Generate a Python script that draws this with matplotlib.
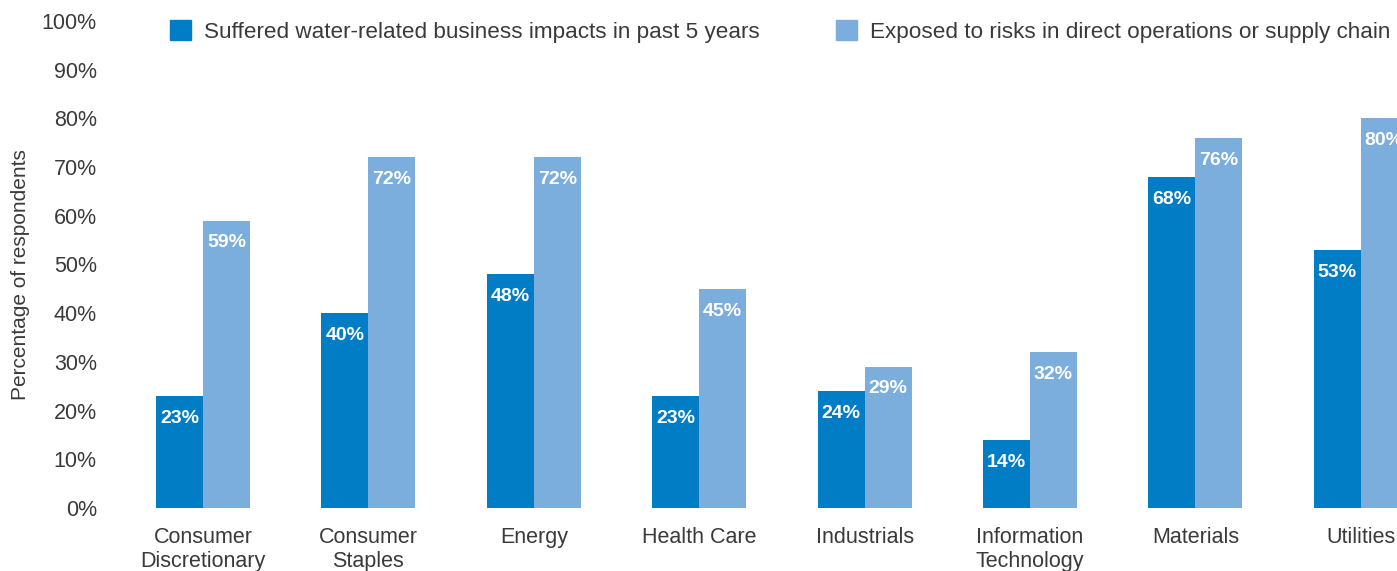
import matplotlib.pyplot as plt
import numpy as np
from matplotlib.patches import Patch

plt.rcParams['font.family'] = ['Liberation Sans', 'DejaVu Sans']

sectors = ["Consumer\nDiscretionary", "Consumer\nStaples", "Energy", "Health Care",
           "Industrials", "Information\nTechnology", "Materials", "Utilities"]
suffered_impacts = [23, 40, 48, 23, 24, 14, 68, 53]
exposed_to_risks = [59, 72, 72, 45, 29, 32, 76, 80]
series_names = ["Suffered water-related business impacts in past 5 years",
                "Exposed to risks in direct operations or supply chain"]

dark_blue = "#007DC5"
light_blue = "#7BADDD"
text_grey = "#3a3a3a"

fig = plt.figure(figsize=(13.97, 5.71), dpi=100)
# axes deliberately runs past the right edge of the figure
ax = fig.add_axes([0.0743, 0.1103, 0.959, 0.853])

x = np.arange(len(sectors))
width = 0.284
bars_a = ax.bar(x - width / 2, suffered_impacts, width, color=dark_blue, label=series_names[0])
bars_b = ax.bar(x + width / 2, exposed_to_risks, width, color=light_blue, label=series_names[1])

for bars, values in [(bars_a, suffered_impacts), (bars_b, exposed_to_risks)]:
    for bar, v in zip(bars, values):
        ax.annotate(f"{v}%", (bar.get_x() + bar.get_width() / 2, v),
                    xytext=(0, -16), textcoords="offset points",
                    ha="center", va="center", color="white",
                    fontsize=14, fontweight="bold")

ax.set_xlim(-0.6, 7.5)
ax.set_ylim(0, 100)
ax.set_yticks(np.arange(0, 101, 10))
ax.set_yticklabels([f"{t}%" for t in range(0, 101, 10)])
ax.set_xticks(x)
ax.set_xticklabels(sectors, linespacing=1.18)
ax.tick_params(axis="both", length=0, labelsize=15.5, colors=text_grey)
ax.tick_params(axis="y", pad=5)
ax.tick_params(axis="x", pad=14)
for s in ax.spines.values():
    s.set_visible(False)

fig.text(0.0150, 0.520, "Percentage of respondents", rotation=90,
         ha="center", va="center", fontsize=15, color=text_grey)

handles = [Patch(color=dark_blue), Patch(color=light_blue)]
fig.legend(handles, series_names, loc="center left", bbox_to_anchor=(0.1214, 0.945),
           ncol=2, frameon=False, fontsize=16.2, labelcolor=text_grey,
           handlelength=0.93, handleheight=0.96, handletextpad=0.58,
           columnspacing=3.42, borderpad=0, borderaxespad=0)

fig.savefig("out.png", dpi=100)
